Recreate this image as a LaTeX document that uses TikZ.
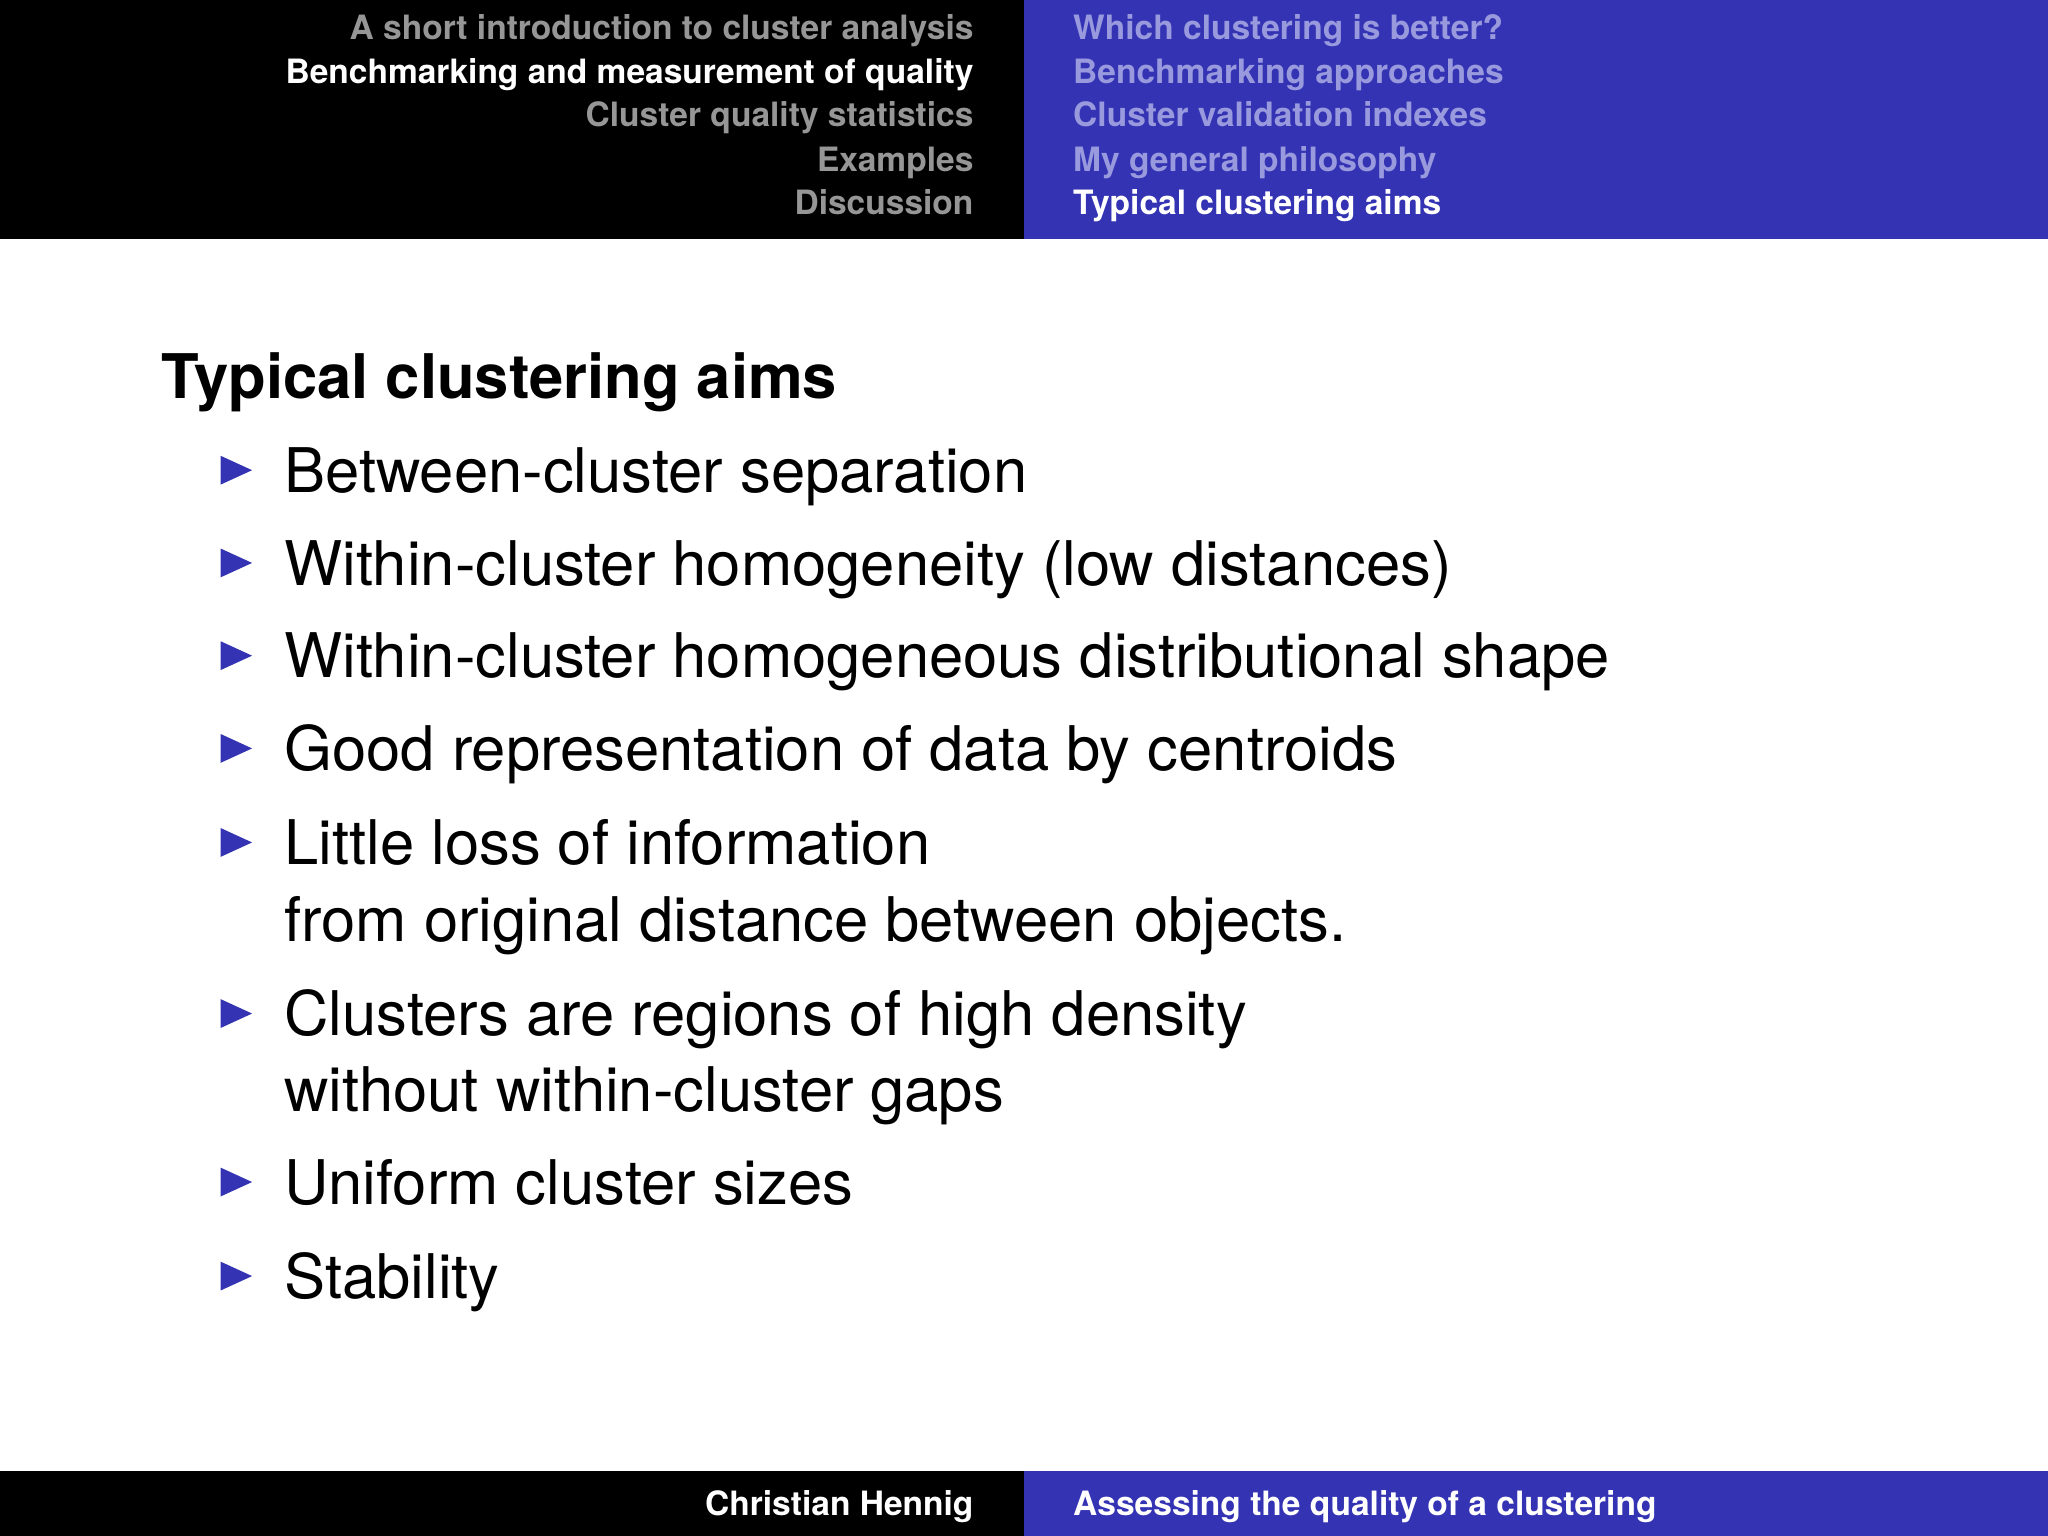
\documentclass[tikz,border=0pt]{standalone}
\usepackage{fontspec}
\setmainfont{TeX Gyre Heros}
\definecolor{bblue}{RGB}{51,51,179}
\definecolor{lblue}{RGB}{153,153,222}
\definecolor{lgray}{RGB}{150,150,150}
\tikzset{
 hl/.style={anchor=base east,inner sep=0pt,font=\fontsize{7.3pt}{8pt}\selectfont\bfseries},
 hr/.style={anchor=base west,inner sep=0pt,font=\fontsize{7.3pt}{8pt}\selectfont\bfseries},
 item/.style={anchor=base west,inner sep=0pt,font=\fontsize{13.4pt}{15pt}\selectfont},
 bul/.style={fill=bblue,draw=none}
}
\begin{document}
\begin{tikzpicture}[x=0.01cm,y=-0.01cm]
\useasboundingbox (0,0) rectangle (1568,1176);
\fill[white] (0,0) rectangle (1568,1176);
\fill[black] (0,0) rectangle (784,183);
\fill[bblue] (784,0) rectangle (1568,183);
\fill[black] (0,1126) rectangle (784,1176);
\fill[bblue] (784,1126) rectangle (1568,1176);
\node[hl,lgray] (l1) at (746,30) {A short introduction to cluster analysis};
\node[hl,white] (l2) at (746,64) {Benchmarking and measurement of quality};
\node[hl,lgray] (l3) at (746,97) {Cluster quality statistics};
\node[hl,lgray] (l4) at (746,131) {Examples};
\node[hl,lgray] (l5) at (746,164) {Discussion};
\node[hr,lblue] (r1) at (821,30) {Which clustering is better?};
\node[hr,lblue] (r2) at (821,64) {Benchmarking approaches};
\node[hr,lblue] (r3) at (821,97) {Cluster validation indexes};
\node[hr,lblue] (r4) at (821,131) {My general philosophy};
\node[hr,white] (r5) at (821,164) {Typical clustering aims};
\node[hl,white] (f1) at (746,1160) {Christian Hennig};
\node[hr,white] (f2) at (821,1160) {Assessing the quality of a clustering};
\node[anchor=base west,inner sep=0pt,font=\fontsize{13.4pt}{15pt}\selectfont\bfseries] (t) at (123,305) {Typical clustering aims};
\foreach \y/\t in {377/Between-cluster separation,448/Within-cluster homogeneity (low distances),519/Within-cluster homogeneous distributional shape,590/Good representation of data by centroids,662/Little loss of information,793/Clusters are regions of high density,922/Uniform cluster sizes,994/Stability}{
 \fill[bul] (169,\y-28) -- (193,\y-17) -- (169,\y-6) -- cycle;
 \node[item] at (217,\y) {\t};
}
\node[item] (c1) at (217,721) {from original distance between objects.};
\node[item] (c2) at (217,851) {without within-cluster gaps};
\end{tikzpicture}
\end{document}
